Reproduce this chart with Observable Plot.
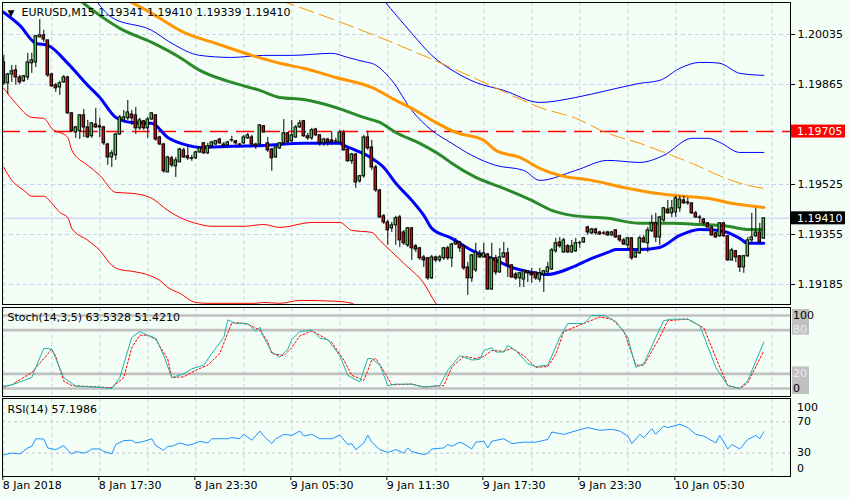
<!DOCTYPE html>
<html><head><meta charset="utf-8">
<script src="https://cdn.jsdelivr.net/npm/d3@7"></script>
<script src="https://cdn.jsdelivr.net/npm/@observablehq/plot@0.6"></script>
<style>
html,body{margin:0;padding:0;background:#f3fff6;}
#wrap{position:relative;width:850px;height:500px;overflow:hidden;background:#f3fff6;}
#wrap > div{position:absolute;left:0;}
svg{display:block;}
</style></head><body>
<div id="wrap"><div id="main" style="top:0"></div><div id="stoch" style="top:306px"></div><div id="rsi" style="top:397px"></div></div>
<script>
// ---------- DATA ----------
const symbolTitle = "EURUSD,M15 1.19341 1.19410 1.19339 1.19410";
const stochTitle = "Stoch(14,3,5) 63.5328 51.4210";
const rsiTitle = "RSI(14) 57.1986";
const xLabels = ["8 Jan 2018","8 Jan 17:30","8 Jan 23:30","9 Jan 05:30","9 Jan 11:30","9 Jan 17:30","9 Jan 23:30","10 Jan 05:30"];
const xLabelBars = [0,24,48,72,96,120,144,168];
const priceTicks = [1.20035,1.19865,1.19525,1.19355,1.19185];
const levelPrice = 1.19705;
const bidPrice = 1.19410;

const open = [1.19940,1.19869,1.19899,1.19913,1.19889,1.19876,1.19889,1.19937,1.19940,1.20025,
1.20032,1.20015,1.19899,1.19862,1.19855,1.19872,1.19889,1.19767,1.19702,1.19706,
1.19760,1.19719,1.19689,1.19729,1.19723,1.19719,1.19661,1.19617,1.19624,1.19695,
1.19743,1.19750,1.19763,1.19760,1.19716,1.19740,1.19716,1.19746,1.19760,1.19685,
1.19661,1.19566,1.19614,1.19587,1.19600,1.19641,1.19621,1.19614,1.19614,1.19634,
1.19665,1.19631,1.19655,1.19661,1.19678,1.19661,1.19658,1.19675,1.19672,1.19661,
1.19665,1.19682,1.19685,1.19661,1.19661,1.19723,1.19665,1.19644,1.19617,1.19648,
1.19665,1.19699,1.19672,1.19685,1.19719,1.19740,1.19689,1.19682,1.19712,1.19692,
1.19665,1.19678,1.19675,1.19672,1.19668,1.19699,1.19644,1.19604,1.19627,1.19536,
1.19553,1.19685,1.19651,1.19583,1.19505,1.19417,1.19396,1.19376,1.19386,1.19413,
1.19362,1.19318,1.19376,1.19315,1.19308,1.19277,1.19274,1.19206,1.19277,1.19267,
1.19274,1.19308,1.19274,1.19321,1.19328,1.19315,1.19243,1.19206,1.19233,1.19287,
1.19277,1.19287,1.19168,1.19274,1.19226,1.19277,1.19291,1.19250,1.19219,1.19206,
1.19202,1.19230,1.19223,1.19226,1.19202,1.19219,1.19226,1.19236,1.19298,1.19328,
1.19294,1.19315,1.19294,1.19298,1.19325,1.19328,1.19379,1.19359,1.19372,1.19362,
1.19359,1.19362,1.19352,1.19369,1.19349,1.19335,1.19318,1.19342,1.19277,1.19291,
1.19342,1.19325,1.19366,1.19393,1.19345,1.19403,1.19440,1.19427,1.19430,1.19444,
1.19471,1.19464,1.19461,1.19427,1.19413,1.19406,1.19393,1.19379,1.19359,1.19349,
1.19393,1.19349,1.19267,1.19298,1.19281,1.19243,1.19281,1.19335,1.19349,1.19362,
1.19341];
const high = [1.19964,1.19903,1.19930,1.19930,1.19896,1.19896,1.19971,1.19971,1.20032,1.20086,
1.20049,1.20015,1.19903,1.19869,1.19876,1.19896,1.19893,1.19770,1.19723,1.19763,
1.19780,1.19743,1.19736,1.19784,1.19750,1.19723,1.19665,1.19641,1.19699,1.19760,
1.19777,1.19811,1.19777,1.19787,1.19750,1.19743,1.19753,1.19770,1.19763,1.19689,
1.19665,1.19621,1.19621,1.19617,1.19648,1.19648,1.19658,1.19624,1.19638,1.19651,
1.19668,1.19665,1.19672,1.19675,1.19682,1.19668,1.19672,1.19689,1.19675,1.19665,
1.19692,1.19699,1.19692,1.19665,1.19729,1.19726,1.19685,1.19648,1.19655,1.19668,
1.19746,1.19702,1.19743,1.19726,1.19743,1.19743,1.19699,1.19716,1.19716,1.19695,
1.19682,1.19682,1.19702,1.19682,1.19709,1.19709,1.19648,1.19631,1.19631,1.19556,
1.19692,1.19706,1.19675,1.19590,1.19508,1.19423,1.19403,1.19396,1.19417,1.19420,
1.19369,1.19379,1.19379,1.19321,1.19311,1.19284,1.19277,1.19284,1.19281,1.19284,
1.19311,1.19315,1.19325,1.19342,1.19332,1.19318,1.19260,1.19287,1.19325,1.19301,
1.19325,1.19291,1.19325,1.19284,1.19308,1.19328,1.19308,1.19253,1.19226,1.19226,
1.19233,1.19233,1.19240,1.19226,1.19240,1.19233,1.19260,1.19308,1.19342,1.19345,
1.19342,1.19321,1.19335,1.19342,1.19332,1.19345,1.19383,1.19376,1.19376,1.19366,
1.19366,1.19366,1.19366,1.19372,1.19352,1.19342,1.19345,1.19345,1.19298,1.19349,
1.19352,1.19379,1.19420,1.19427,1.19417,1.19447,1.19471,1.19471,1.19485,1.19485,
1.19485,1.19478,1.19461,1.19434,1.19420,1.19410,1.19396,1.19383,1.19362,1.19396,
1.19396,1.19352,1.19308,1.19301,1.19284,1.19284,1.19345,1.19427,1.19444,1.19393,
1.19410];
const low = [1.19862,1.19831,1.19872,1.19862,1.19865,1.19872,1.19879,1.19903,1.19923,1.20025,
1.20008,1.19889,1.19855,1.19838,1.19828,1.19869,1.19763,1.19702,1.19682,1.19678,
1.19685,1.19682,1.19682,1.19716,1.19685,1.19658,1.19590,1.19583,1.19607,1.19692,
1.19743,1.19743,1.19726,1.19695,1.19709,1.19709,1.19682,1.19743,1.19672,1.19658,
1.19563,1.19566,1.19583,1.19549,1.19600,1.19614,1.19607,1.19604,1.19610,1.19631,
1.19627,1.19627,1.19651,1.19658,1.19661,1.19651,1.19655,1.19668,1.19658,1.19655,
1.19661,1.19678,1.19655,1.19644,1.19658,1.19700,1.19634,1.19570,1.19614,1.19644,
1.19661,1.19665,1.19668,1.19682,1.19716,1.19685,1.19675,1.19675,1.19689,1.19655,
1.19655,1.19655,1.19658,1.19665,1.19665,1.19638,1.19600,1.19593,1.19512,1.19529,
1.19546,1.19641,1.19573,1.19498,1.19410,1.19389,1.19318,1.19362,1.19318,1.19311,
1.19318,1.19311,1.19267,1.19294,1.19267,1.19243,1.19199,1.19202,1.19260,1.19260,
1.19267,1.19267,1.19243,1.19318,1.19294,1.19233,1.19148,1.19192,1.19226,1.19274,
1.19274,1.19165,1.19165,1.19216,1.19223,1.19274,1.19209,1.19206,1.19199,1.19175,
1.19175,1.19192,1.19189,1.19199,1.19192,1.19158,1.19223,1.19233,1.19291,1.19308,
1.19291,1.19291,1.19291,1.19294,1.19308,1.19325,1.19352,1.19355,1.19352,1.19352,
1.19352,1.19349,1.19349,1.19342,1.19328,1.19318,1.19301,1.19267,1.19274,1.19287,
1.19325,1.19294,1.19362,1.19328,1.19318,1.19396,1.19425,1.19413,1.19413,1.19430,
1.19457,1.19454,1.19423,1.19410,1.19393,1.19386,1.19376,1.19349,1.19342,1.19345,
1.19345,1.19264,1.19264,1.19260,1.19226,1.19223,1.19277,1.19328,1.19345,1.19325,
1.19339];
const close = [1.19869,1.19899,1.19910,1.19889,1.19872,1.19893,1.19940,1.19947,1.20029,1.20032,
1.20018,1.19896,1.19859,1.19852,1.19869,1.19889,1.19767,1.19706,1.19719,1.19760,
1.19719,1.19685,1.19733,1.19719,1.19719,1.19665,1.19617,1.19631,1.19695,1.19753,
1.19753,1.19770,1.19750,1.19716,1.19743,1.19716,1.19746,1.19767,1.19678,1.19661,
1.19570,1.19617,1.19590,1.19607,1.19644,1.19617,1.19614,1.19612,1.19634,1.19648,
1.19631,1.19655,1.19668,1.19672,1.19665,1.19655,1.19668,1.19676,1.19665,1.19660,
1.19685,1.19692,1.19661,1.19655,1.19726,1.19702,1.19641,1.19614,1.19651,1.19665,
1.19699,1.19668,1.19692,1.19719,1.19733,1.19689,1.19682,1.19709,1.19692,1.19665,
1.19678,1.19668,1.19668,1.19671,1.19702,1.19641,1.19604,1.19627,1.19532,1.19553,
1.19685,1.19648,1.19583,1.19505,1.19413,1.19396,1.19369,1.19386,1.19410,1.19335,
1.19325,1.19376,1.19308,1.19304,1.19274,1.19267,1.19206,1.19277,1.19267,1.19277,
1.19308,1.19274,1.19321,1.19328,1.19308,1.19240,1.19206,1.19284,1.19294,1.19277,
1.19291,1.19168,1.19274,1.19226,1.19277,1.19291,1.19250,1.19209,1.19206,1.19223,
1.19230,1.19223,1.19216,1.19206,1.19223,1.19230,1.19243,1.19301,1.19325,1.19315,
1.19335,1.19294,1.19315,1.19325,1.19326,1.19342,1.19362,1.19372,1.19359,1.19355,
1.19358,1.19352,1.19362,1.19345,1.19335,1.19321,1.19342,1.19274,1.19294,1.19342,
1.19328,1.19369,1.19393,1.19345,1.19413,1.19444,1.19427,1.19444,1.19478,1.19474,
1.19461,1.19461,1.19427,1.19413,1.19411,1.19393,1.19379,1.19352,1.19345,1.19393,
1.19349,1.19267,1.19301,1.19277,1.19243,1.19281,1.19335,1.19345,1.19362,1.19328,
1.19410];

// indicator lines: [bar, value]
const maBlue = [[0,1.20110],[4,1.20066],[8,1.20005],[11,1.19998],[16,1.19937],[21,1.19862],[24,1.19821],[28,1.19753],[32,1.19736],[37,1.19733],[41,1.19685],[46,1.19658],[49,1.19651],[57,1.19655],[65,1.19658],[75,1.19665],[84,1.19665],[85,1.19658],[88,1.19641],[92,1.19614],[95,1.19583],[98,1.19529],[102,1.19471],[105,1.19420],[107,1.19376],[112,1.19342],[117,1.19301],[122,1.19274],[127,1.19243],[132,1.19226],[136,1.19219],[142,1.19243],[147,1.19274],[151,1.19294],[153,1.19304],[159,1.19304],[164,1.19311],[169,1.19352],[174,1.19372],[179,1.19369],[184,1.19342],[186,1.19325],[190,1.19325]];
const maGreen = [[19,1.20151],[24,1.20100],[29,1.20056],[37,1.20008],[44,1.19957],[49,1.19913],[57,1.19872],[64,1.19845],[69,1.19821],[75,1.19814],[83,1.19787],[90,1.19753],[94,1.19736],[98,1.19702],[104,1.19665],[110,1.19617],[112,1.19597],[118,1.19549],[125,1.19512],[132,1.19471],[137,1.19437],[142,1.19420],[151,1.19410],[159,1.19393],[167,1.19393],[174,1.19389],[181,1.19383],[186,1.19372],[190,1.19372]];
const maOrange = [[31,1.20151],[37,1.20107],[45,1.20042],[53,1.20005],[62,1.19964],[69,1.19937],[75,1.19920],[83,1.19889],[92,1.19855],[98,1.19811],[102,1.19784],[108,1.19736],[113,1.19702],[120,1.19675],[123,1.19641],[129,1.19617],[134,1.19580],[139,1.19556],[147,1.19539],[155,1.19515],[163,1.19495],[170,1.19485],[176,1.19478],[182,1.19461],[190,1.19447]];
const bandUpper = [[95,1.20151],[102,1.20039],[107,1.19964],[113,1.19906],[118,1.19872],[125,1.19845],[134,1.19804],[143,1.19821],[151,1.19845],[159,1.19869],[164,1.19879],[169,1.19920],[174,1.19940],[176,1.19940],[179,1.19937],[184,1.19903],[190,1.19896]];
const bandLower = [[23,1.20151],[27,1.20093],[37,1.20049],[42,1.20005],[49,1.19964],[57,1.19957],[65,1.19964],[72,1.19964],[82,1.19971],[86,1.19957],[91,1.19940],[92,1.19937],[97,1.19879],[102,1.19777],[107,1.19709],[112,1.19665],[117,1.19624],[123,1.19590],[130,1.19573],[134,1.19539],[143,1.19573],[151,1.19607],[159,1.19600],[165,1.19624],[172,1.19682],[176,1.19682],[179,1.19668],[184,1.19634],[190,1.19634]];
const envRed1 = [[0,1.19852],[3,1.19801],[7,1.19753],[10,1.19750],[12,1.19716],[16,1.19685],[17,1.19641],[21,1.19590],[24,1.19556],[28,1.19498],[32,1.19495],[37,1.19478],[41,1.19437],[44,1.19413],[48,1.19393],[52,1.19383],[60,1.19383],[65,1.19389],[69,1.19379],[77,1.19396],[84,1.19396],[87,1.19369],[92,1.19362],[94,1.19335],[100,1.19257],[105,1.19189],[108,1.19121],[112,1.19063]];
const envRed2 = [[0,1.19583],[2,1.19539],[5,1.19505],[7,1.19485],[10,1.19485],[12,1.19461],[14,1.19430],[16,1.19413],[17,1.19376],[21,1.19335],[24,1.19301],[27,1.19250],[29,1.19236],[32,1.19230],[37,1.19213],[39,1.19199],[41,1.19175],[44,1.19155],[48,1.19124],[51,1.19121],[63,1.19121],[65,1.19124],[69,1.19121],[74,1.19131],[83,1.19128],[87,1.19121],[92,1.19029]];
const trendOrange = [[69,1.20151],[83,1.20083],[94,1.20025],[106,1.19957],[120,1.19872],[127,1.19828],[134,1.19787],[143,1.19750],[151,1.19699],[159,1.19665],[167,1.19624],[172,1.19597],[180,1.19549],[186,1.19522],[190,1.19512]];

const stochK = [[0,3],[2,5],[4,9],[7,15],[8,29],[10,55],[12,54],[13,41],[15,15],[17,7],[18,3],[23,2],[27,0],[29,15],[31,52],[32,70],[34,78],[36,73],[38,69],[40,45],[42,15],[45,20],[47,27],[50,32],[52,48],[55,70],[56,94],[58,89],[61,89],[63,78],[64,84],[65,70],[67,50],[69,43],[71,54],[72,67],[74,78],[77,80],[79,69],[81,67],[84,45],[86,18],[89,9],[91,41],[92,41],[94,32],[96,4],[98,6],[102,6],[105,2],[109,4],[111,25],[114,45],[117,39],[119,40],[120,52],[122,56],[123,50],[125,50],[126,59],[128,52],[131,34],[133,30],[136,32],[139,70],[141,89],[145,89],[147,100],[150,100],[153,92],[156,70],[158,29],[160,34],[163,70],[165,93],[167,95],[171,95],[174,86],[178,29],[181,4],[184,0],[186,11],[190,63.5328]];
const stochD = [[0,2],[2,5],[7,22],[10,41],[12,54],[13,44],[15,10],[17,4],[27,1],[30,15],[32,56],[34,73],[36,73],[38,67],[41,40],[42,15],[45,16],[48,25],[51,32],[54,48],[57,90],[59,90],[61,88],[64,80],[66,64],[67,48],[70,45],[72,56],[74,72],[77,79],[80,70],[82,63],[85,39],[87,18],[90,11],[92,39],[93,41],[95,24],[97,5],[102,6],[105,2],[110,4],[112,29],[115,44],[118,41],[120,44],[122,52],[125,51],[127,55],[130,45],[133,29],[136,30],[138,47],[140,78],[145,89],[149,98],[152,95],[155,79],[158,32],[160,32],[164,70],[166,93],[171,95],[175,83],[179,29],[181,4],[184,0],[186,8],[190,51.421]];
const rsi = [[0,27.8],[2,30],[4,29],[6,36.6],[7,38.7],[8,48.4],[10,48],[11,36.6],[13,34.4],[15,39.6],[16,33.5],[17,29],[18,32],[20,30],[21,32],[22,35.3],[24,35.3],[25,32],[27,29],[28,41],[30,46],[32,46.5],[33,43],[35,45],[37,48.4],[38,39.6],[40,33.5],[41,38.7],[42,38.7],[44,43],[46,40],[47,41],[49,45],[51,43],[52,48.4],[56,48.4],[57,50],[59,48.4],[60,54],[62,46.5],[64,58.3],[65,51.8],[67,42.2],[68,48.4],[70,54],[72,52.7],[74,58.3],[75,51.8],[77,54],[79,48.4],[82,48.4],[84,53],[86,41],[87,42.2],[88,34.4],[90,43],[91,53],[92,44],[94,34.4],[96,30.9],[98,34.4],[100,30],[101,36.6],[102,32],[105,28],[106,30],[107,35.3],[110,36.6],[111,41],[112,38.7],[114,44],[115,41.8],[117,35.3],[118,44],[120,45.2],[121,36.6],[122,45.2],[125,48.4],[127,42.2],[130,44],[133,44],[136,47.5],[137,57],[140,54],[142,57],[146,62.7],[149,59.2],[152,60.5],[154,58.3],[156,51.8],[157,42.2],[159,54],[160,49.7],[162,61.4],[163,54],[165,64.8],[166,62.7],[169,67],[171,62.7],[173,54],[175,51.8],[178,43],[179,52.7],[181,35.3],[182,41],[184,35.3],[186,47.5],[188,52.7],[189,48.4],[190,57.1986]];

// ---------- RENDER ----------
const BG = "#f3fff6";
const GRID = "#c9d1ef";
const FONT = "DejaVu Sans";
const xDomain = [-0.325, 196.675];
const gridBars = d3.range(0, 197, 12);
const bars = open.map((o, i) => ({i, o, h: high[i], l: low[i], c: close[i]}));
const baseStyle = {background: BG, fontFamily: FONT, fontSize: "11px", color: "black", overflow: "visible"};
const L = (pts, stroke, w, dash, curve = "linear") => Plot.line(pts, {x: d => d[0], y: d => d[1], stroke, strokeWidth: w, strokeDasharray: dash, curve, clip: true});
const addText = (svg, x, y, t, fill) => svg.append("text").attr("x", x).attr("y", y).attr("dy", "0.35em")
  .attr("text-anchor", "start").attr("fill", fill).attr("font-family", FONT).attr("font-size", 11).text(t);

const mainPlot = Plot.plot({
  width: 850, height: 306,
  marginLeft: 2, marginRight: 60, marginTop: 2, marginBottom: 2,
  style: baseStyle,
  x: {domain: xDomain, axis: null},
  y: {domain: [1.19117, 1.201438]},
  marks: [
    Plot.ruleX(gridBars, {stroke: GRID, strokeDasharray: "4,3"}),
    Plot.ruleY(priceTicks, {stroke: GRID, strokeDasharray: "4,3"}),
    Plot.ruleY([bidPrice], {stroke: "#d3d7f7", strokeWidth: 1.5}),
    Plot.ruleY([levelPrice], {stroke: "#ff0000", strokeWidth: 1.5, strokeDasharray: "18,8"}),
    L(envRed1, "#ff0000", 1, null, "monotone-x"),
    L(envRed2, "#ff0000", 1, null, "monotone-x"),
    L(bandUpper, "#0000ff", 1, null, "monotone-x"),
    L(bandLower, "#0000ff", 1, null, "monotone-x"),
    L(trendOrange, "#ff9500", 1, "15,6", "monotone-x"),
    L(maOrange, "#ff9500", 3, null, "monotone-x"),
    L(maGreen, "#2a8a2a", 3, null, "monotone-x"),
    L(maBlue, "#0000ff", 3, null, "monotone-x"),
    Plot.ruleX(bars, {x: "i", y1: "l", y2: "h", stroke: "black", strokeWidth: 1, clip: true}),
    Plot.rect(bars, {x1: d => d.i - 0.32, x2: d => d.i + 0.32, y1: "o", y2: "c",
      fill: d => d.c >= d.o ? "#3ad33a" : "#e00000", stroke: "black", strokeWidth: 1, clip: true}),
    Plot.axisY(priceTicks, {anchor: "right", tickSize: 4, tickPadding: 3, tickFormat: d3.format(".5f"), fontSize: 11, stroke: "black", fill: "black"}),
    Plot.frame({stroke: "black"}),
    Plot.text(["▼"], {frameAnchor: "top-left", dx: 8.5, dy: 10.5, textAnchor: "middle", lineAnchor: "middle", fontSize: 9, fill: "black"}),
    Plot.text([symbolTitle], {frameAnchor: "top-left", dx: 19, dy: 10, textAnchor: "start", lineAnchor: "middle", fontSize: 11, fill: "black"})
  ]
});
document.getElementById("main").append(mainPlot);
{
  const ys = mainPlot.scale("y");
  const svg = d3.select(mainPlot);
  const boxes = [[levelPrice, "#ff0000"], [bidPrice, "#000000"]];
  for (const [v, col] of boxes) {
    const y = ys.apply(v);
    svg.append("rect").attr("x", 791).attr("y", y - 6.5).attr("width", 54).attr("height", 13).attr("fill", col);
    addText(svg, 797, y, d3.format(".5f")(v), "white");
  }
}

const stochPlot = Plot.plot({
  width: 850, height: 91,
  marginLeft: 2, marginRight: 60, marginTop: 1, marginBottom: 1,
  style: baseStyle,
  x: {domain: xDomain, axis: null},
  y: {domain: [0, 100], range: [82, 9], axis: null},
  marks: [
    Plot.ruleX(gridBars, {stroke: GRID, strokeDasharray: "4,3"}),
    Plot.ruleY([100, 80, 20, 0], {stroke: "#c0c0c0", strokeWidth: 2.6}),
    L(stochD, "#ff0000", 1, "2,2"),
    L(stochK, "#20b2aa", 1),
    Plot.frame({stroke: "black"}),
    Plot.text([stochTitle], {frameAnchor: "top-left", dx: 5, dy: 10, textAnchor: "start", lineAnchor: "middle", fontSize: 11, fill: "black"})
  ]
});
document.getElementById("stoch").append(stochPlot);
{
  const ys = stochPlot.scale("y");
  const svg = d3.select(stochPlot);
  svg.append("rect").attr("x", 792).attr("y", ys.apply(100) - 6).attr("width", 17).attr("height", ys.apply(80) - ys.apply(100) + 11).attr("fill", "#c0c0c0");
  svg.append("rect").attr("x", 792).attr("y", ys.apply(20) - 7).attr("width", 17).attr("height", ys.apply(0) - ys.apply(20) + 13).attr("fill", "#c0c0c0");
  const labs = [[100, "100", "black"], [80, "80", "#ececec"], [20, "20", "#ececec"], [0, "0", "black"]];
  for (const [v, t, col] of labs) addText(svg, 793, ys.apply(v), t, col);
}

const labelMap = new Map(xLabelBars.map((b, k) => [b, xLabels[k]]));
const rsiPlot = Plot.plot({
  width: 850, height: 103,
  marginLeft: 2, marginRight: 60, marginTop: 1, marginBottom: 24,
  style: baseStyle,
  x: {domain: xDomain},
  y: {domain: [0, 100], axis: null},
  marks: [
    Plot.ruleX(gridBars, {stroke: GRID, strokeDasharray: "4,3"}),
    Plot.ruleY([70, 30], {stroke: "#c0c0c0", strokeDasharray: "3,3"}),
    L(rsi, "#1e90ff", 1),
    Plot.frame({stroke: "black"}),
    Plot.axisX(xLabelBars, {anchor: "bottom", tickSize: 4, tickPadding: 1, tickFormat: d => labelMap.get(d), textAnchor: "start", dx: -1, fontSize: 11, stroke: "black", fill: "black"}),
    Plot.text([rsiTitle], {frameAnchor: "top-left", dx: 5, dy: 11, textAnchor: "start", lineAnchor: "middle", fontSize: 11, fill: "black"})
  ]
});
document.getElementById("rsi").append(rsiPlot);
{
  const ys = rsiPlot.scale("y");
  const svg = d3.select(rsiPlot);
  const labs = [[100, "100", 9.5], [70, "70", 0], [30, "30", 0], [0, "0", -8]];
  for (const [v, t, off] of labs) addText(svg, 797, ys.apply(v) + off, t, "black");
}
</script>
</body></html>
